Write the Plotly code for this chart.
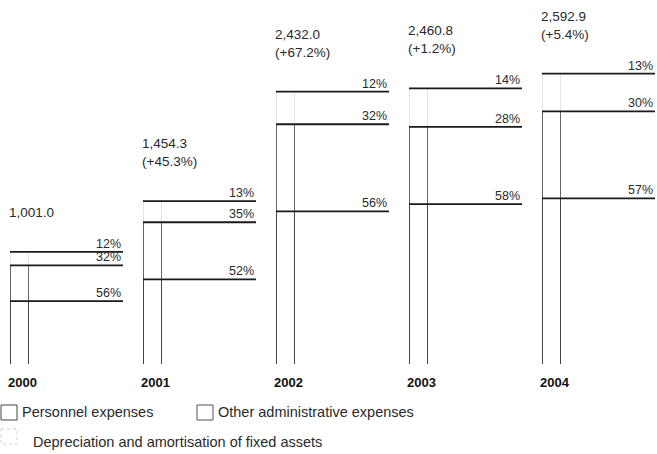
import numpy as np
import plotly.graph_objects as go

years = ["2000", "2001", "2002", "2003", "2004"]
totals = [1001.0, 1454.3, 2432.0, 2460.8, 2592.9]
growth = ["", "(+45.3%)", "(+67.2%)", "(+1.2%)", "(+5.4%)"]
personnel_pct = [56, 52, 56, 58, 57]
other_pct = [32, 35, 32, 28, 30]
depr_pct = [12, 13, 12, 14, 13]

series_names = ["Personnel expenses", "Other administrative expenses",
                "Depreciation and amortisation of fixed assets"]

W, H = 657, 454
BOTTOM = 90
SPACING = 133.0          # px between year groups
BW = 18 / SPACING        # bar width in axis units
LINE_LEN = 113 / SPACING # length of horizontal lines
X0 = -19 / SPACING
X1 = X0 + W / SPACING
YMAX = (H - BOTTOM) / 0.11202

idx = np.arange(len(years))
tot = np.array(totals)
pers = tot * np.array(personnel_pct) / 100
oth = tot * np.array(other_pct) / 100
dep = tot * np.array(depr_pct) / 100

fig = go.Figure()
TEXT = "#2a2a2a"
FONT = "Liberation Sans, Arial, sans-serif"

for vals, name, lc in [(pers, series_names[0], "#444444"),
                       (oth, series_names[1], "#666666"),
                       (dep, series_names[2], "#e4e4e4")]:
    fig.add_trace(go.Bar(x=idx, y=vals, width=BW, name=name,
                         marker=dict(color="white", line=dict(color=lc, width=1)),
                         showlegend=False, hoverinfo="name+y"))

cum1 = pers
cum2 = pers + oth
cum3 = pers + oth + dep
levels = [(cum1, personnel_pct), (cum2, other_pct), (cum3, depr_pct)]

annotations = []
for i in idx:
    left = i - BW / 2
    right = left + LINE_LEN
    for cum, pct in levels:
        fig.add_trace(go.Scatter(x=[left, right], y=[cum[i], cum[i]], mode="lines",
                                 line=dict(color="#1a1a1a", width=1.8),
                                 showlegend=False, hoverinfo="skip"))
        annotations.append(dict(x=right, y=cum[i], xref="x", yref="y",
                                text=f"{pct[i]}%", showarrow=False,
                                xanchor="right", yanchor="bottom", yshift=-1,
                                font=dict(size=12.5, color=TEXT, family=FONT)))
    label = f"{totals[i]:,.1f}" + (f"<br>{growth[i]}" if growth[i] else "")
    annotations.append(dict(x=left, y=cum3[i], xref="x", yref="y", text=label,
                            showarrow=False, xanchor="left", yanchor="bottom",
                            yshift=30, xshift=-3, align="left",
                            font=dict(size=13.5, color=TEXT, family=FONT)))
    annotations.append(dict(x=left, y=0, xref="x", yref="y", text=f"<b>{years[i]}</b>",
                            showarrow=False, xanchor="left", yanchor="top",
                            yshift=-9, xshift=-4,
                            font=dict(size=13, color="#111111", family=FONT)))

PH = H - BOTTOM
def px(x):
    return x / W
def py(y):
    return (PH - y) / PH

shapes = []
legend_items = [
    (1, 405, series_names[0], 20, 412, "#444444", "solid"),
    (197, 405, series_names[1], 216, 412, "#555555", "solid"),
    (1, 429, series_names[2], 31, 442, "#cfcfcf", "dot"),
]
for bx, by, name, tx, ty, col, dash in legend_items:
    shapes.append(dict(type="rect", xref="paper", yref="paper",
                       x0=px(bx), x1=px(bx + 16), y0=py(by), y1=py(by + 15),
                       line=dict(color=col, width=1, dash=dash), fillcolor="white"))
    annotations.append(dict(x=px(tx), y=py(ty), xref="paper", yref="paper",
                            text=name, showarrow=False, xanchor="left", yanchor="middle",
                            font=dict(size=14.5, color=TEXT, family=FONT)))

fig.update_layout(
    width=W, height=H,
    margin=dict(l=0, r=0, t=0, b=BOTTOM),
    paper_bgcolor="white", plot_bgcolor="white",
    barmode="stack",
    xaxis=dict(range=[X0, X1], visible=False, fixedrange=True),
    yaxis=dict(range=[0, YMAX], visible=False, fixedrange=True),
    annotations=annotations, shapes=shapes,
    showlegend=False,
)

fig.write_html("out.html", config={"displayModeBar": False},
               post_script="document.body.style.margin='0px';document.body.style.overflow='hidden';")
